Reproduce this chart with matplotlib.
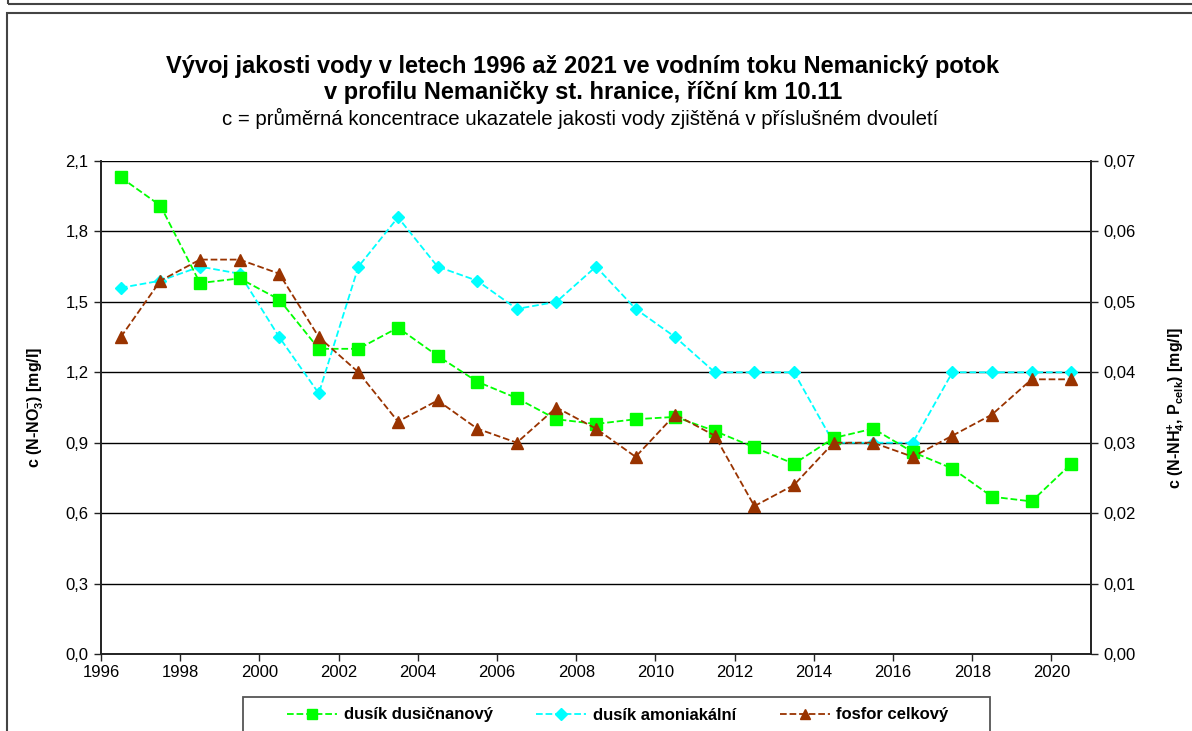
import matplotlib
matplotlib.use("Agg")
import matplotlib.pyplot as plt
from matplotlib.lines import Line2D
from matplotlib.patches import Rectangle

plt.rcParams['font.family'] = ['Liberation Sans', 'DejaVu Sans']
plt.rcParams['mathtext.fontset'] = 'custom'
plt.rcParams['mathtext.rm'] = 'Liberation Sans'
plt.rcParams['mathtext.bf'] = 'Liberation Sans:bold'

# --- data (two-year averages, plotted mid-period) ---
roky = [1996.5, 1997.5, 1998.5, 1999.5, 2000.5, 2001.5, 2002.5, 2003.5, 2004.5,
        2005.5, 2006.5, 2007.5, 2008.5, 2009.5, 2010.5, 2011.5, 2012.5, 2013.5,
        2014.5, 2015.5, 2016.5, 2017.5, 2018.5, 2019.5, 2020.5]
dusik_dusicnanovy = [2.03, 1.91, 1.58, 1.60, 1.51, 1.30, 1.30, 1.39, 1.27,
                     1.16, 1.09, 1.00, 0.98, 1.00, 1.01, 0.95, 0.88, 0.81,
                     0.92, 0.96, 0.86, 0.79, 0.67, 0.65, 0.81]
dusik_amoniakalni = [0.052, 0.053, 0.055, 0.054, 0.045, 0.037, 0.055, 0.062, 0.055,
                     0.053, 0.049, 0.050, 0.055, 0.049, 0.045, 0.040, 0.040, 0.040,
                     0.030, 0.030, 0.030, 0.040, 0.040, 0.040, 0.040]
fosfor_celkovy = [0.045, 0.053, 0.056, 0.056, 0.054, 0.045, 0.040, 0.033, 0.036,
                  0.032, 0.030, 0.035, 0.032, 0.028, 0.034, 0.031, 0.021, 0.024,
                  0.030, 0.030, 0.028, 0.031, 0.034, 0.039, 0.039]

x_ticks = [1996, 1998, 2000, 2002, 2004, 2006, 2008, 2010, 2012, 2014, 2016, 2018, 2020]
y1_ticks = [0.0, 0.3, 0.6, 0.9, 1.2, 1.5, 1.8, 2.1]
y1_labels = ['0,0', '0,3', '0,6', '0,9', '1,2', '1,5', '1,8', '2,1']
y2_ticks = [0.0, 0.01, 0.02, 0.03, 0.04, 0.05, 0.06, 0.07]
y2_labels = ['0,00', '0,01', '0,02', '0,03', '0,04', '0,05', '0,06', '0,07']

nazvy = ['dusík dusičnanový', 'dusík amoniakální', 'fosfor celkový']
barvy = ['#00FF00', '#00FFFF', '#993300']

fig = plt.figure(figsize=(11.92, 7.31), dpi=100)
ax1 = fig.add_axes([101/1192, 1-654/731, 990/1192, 493/731])
ax2 = ax1.twinx()

ax1.set_xlim(1996, 2021)
ax1.set_ylim(0, 2.1)
ax2.set_ylim(0, 0.07)

# grid
for y in y1_ticks:
    ax1.axhline(y, color='black', lw=1.0, zorder=0)

# cyan first, then green (left scale), brown on top
ax2.plot(roky, dusik_amoniakalni, ls='--', lw=1.3, color=barvy[1],
         marker='D', ms=6, mec=barvy[1], zorder=3)
ax2.plot(roky, dusik_dusicnanovy, ls='--', lw=1.3, color=barvy[0],
         marker='s', ms=8, mec=barvy[0], transform=ax1.transData, zorder=4)
ax2.plot(roky, fosfor_celkovy, ls='--', lw=1.3, color=barvy[2],
         marker='^', ms=8, mec=barvy[2], zorder=5)

ax1.set_xticks(x_ticks)
ax1.set_xticklabels([str(r) for r in x_ticks])
ax1.set_yticks(y1_ticks)
ax1.set_yticklabels(y1_labels)
ax2.set_yticks(y2_ticks)
ax2.set_yticklabels(y2_labels)

for ax in (ax1, ax2):
    ax.spines['top'].set_visible(False)
    for s in ax.spines.values():
        s.set_linewidth(1.2)
        s.set_color('#222222')
    ax.tick_params(axis='both', direction='out', length=5, width=1.0,
                   labelsize=12, color='#222222')
ax1.tick_params(axis='y', pad=4)
ax2.tick_params(axis='y', pad=4)
ax1.tick_params(axis='x', pad=3)

ax1.set_ylabel(r'c (N-NO$_\mathbf{3}^\mathbf{-}$) [mg/l]', fontsize=11.5, fontweight='bold',
               labelpad=14)
ax2.set_ylabel(r'c (N-NH$_\mathbf{4}^\mathbf{+}$, P$_\mathbf{celk}$) [mg/l]', fontsize=11.5,
               fontweight='bold', labelpad=21)

fig.text(0.489, 1-66/731, 'Vývoj jakosti vody v letech 1996 až 2021 ve vodním toku Nemanický potok',
         ha='center', va='center', fontsize=17, fontweight='bold')
fig.text(0.489, 1-92/731, 'v profilu Nemaničky st. hranice, říční km 10.11',
         ha='center', va='center', fontsize=17, fontweight='bold')
fig.text(0.487, 1-118/731, 'c = průměrná koncentrace ukazatele jakosti vody zjištěná v příslušném dvouletí',
         ha='center', va='center', fontsize=14.7)

# legend
markers = ['s', 'D', '^']
sizes = [7, 6, 7]
handles = [Line2D([], [], ls='--', lw=1.3, color=c, marker=m, ms=s, mec=c)
           for c, m, s in zip(barvy, markers, sizes)]
fig.legend(handles, nazvy, loc='center', bbox_to_anchor=(618/1192, 1-715/731),
           ncol=3, frameon=False, prop={'weight': 'bold', 'size': 12},
           handlelength=3.0, columnspacing=2.6, handletextpad=0.4)
fig.patches.append(Rectangle((243/1192, -0.05), 747/1192, 0.05 + (731-697)/731,
                             transform=fig.transFigure, fill=False,
                             edgecolor='#555555', lw=1.3))

# outer chart frame
fig.patches.append(Rectangle((7/1192, -0.05), 1.2, 0.05 + (731-13)/731,
                             transform=fig.transFigure, fill=False,
                             edgecolor='#444444', lw=1.5))
fig.patches.append(Rectangle((8/1192, 1-4/731), 1.2, 0.1,
                             transform=fig.transFigure, fill=False,
                             edgecolor='#444444', lw=1.5))

fig.savefig('out.png', dpi=100)
